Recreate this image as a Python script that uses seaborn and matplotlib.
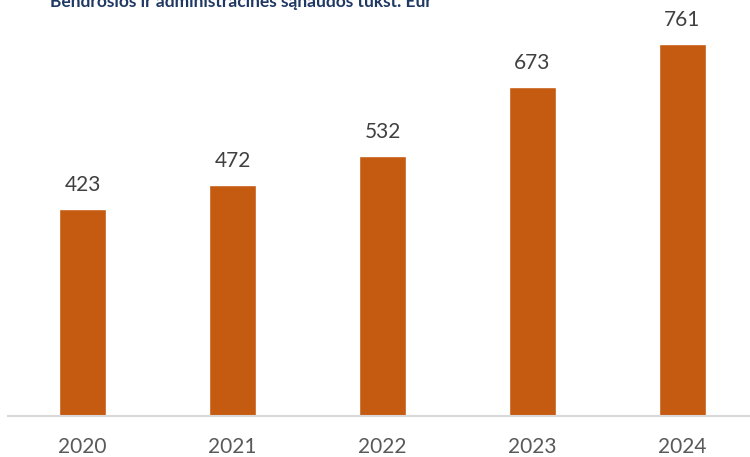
import matplotlib
matplotlib.use("Agg")
import matplotlib.pyplot as plt
import seaborn as sns
import pandas as pd

# duomenys
metai = ["2020", "2021", "2022", "2023", "2024"]
sanaudos = [423, 472, 532, 673, 761]
pavadinimas = "Bendrosios ir administracinės sąnaudos tūkst. Eur"

sns.set_style("white")
plt.rcParams["font.family"] = ["Lato", "DejaVu Sans"]

df = pd.DataFrame({"metai": metai, "sanaudos": sanaudos})

fig = plt.figure(figsize=(7.5, 4.57), dpi=100)
# ašys šiek tiek išeina už paveikslo krašto, kaip originale
ax = fig.add_axes([7.5 / 750, 1 - 416 / 457, 750 / 750, 396 / 457])

sns.barplot(data=df, x="metai", y="sanaudos", color="#C55A11", width=0.31,
            saturation=1, ax=ax)

ax.set_xlim(-0.5, 4.5)
ax.set_ylim(0, 396 / 0.489)

for i, v in enumerate(sanaudos):
    ax.annotate(str(v), (i, v), xytext=(0, 10), textcoords="offset points",
                ha="center", va="bottom", fontsize=15, color="#404040")

ax.set_xlabel("")
ax.set_ylabel("")
ax.set_yticks([])
ax.tick_params(axis="x", length=0, pad=15, labelsize=15, labelcolor="#595959")
for s in ["top", "right", "left"]:
    ax.spines[s].set_visible(False)
ax.spines["bottom"].set_color("#D9D9D9")
ax.spines["bottom"].set_linewidth(1.5)

fig.text(50 / 750, 1 - 7 / 457, pavadinimas, fontsize=12.5, fontweight="bold",
         color="#1F3864", ha="left", va="baseline")

fig.savefig("out.png", dpi=100)
